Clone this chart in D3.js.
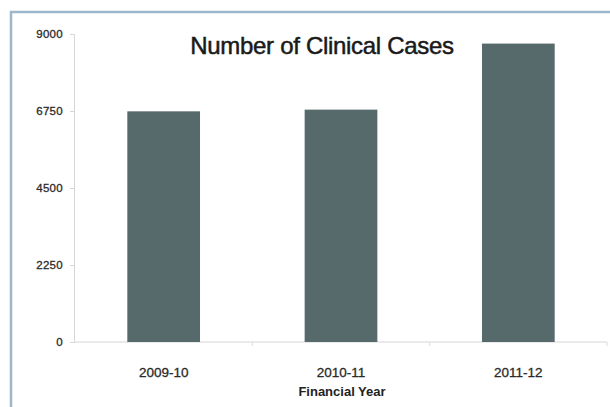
<!DOCTYPE html>
<html>
<head>
<meta charset="utf-8">
<script src="https://cdn.jsdelivr.net/npm/d3@7"></script>
<style>
  body { margin: 0; background: #fff; }
  text { font-family: "Liberation Sans", Arial, sans-serif; }
</style>
</head>
<body>
<script>
// chart data
var years = ["2009-10", "2010-11", "2011-12"];
var cases = [6740, 6790, 8720];
var yTicks = [0, 2250, 4500, 6750, 9000];

var width = 610, height = 407;

var svg = d3.select("body")
  .append("svg")
  .attr("width", width)
  .attr("height", height);

// frame round the chart
svg.append("rect")
  .attr("x", 11)
  .attr("y", 12)
  .attr("width", 620)
  .attr("height", 420)
  .attr("fill", "#fff")
  .attr("stroke", "#9db6c9")
  .attr("stroke-width", 2.5);

var x = d3.scaleBand()
  .domain(years)
  .range([75, 607])
  .paddingInner(0.59)
  .paddingOuter(0.295);

var y = d3.scaleLinear()
  .domain([0, 9000])
  .range([342, 34]);

// y axis
var yAxis = svg.append("g")
  .attr("transform", "translate(74,0)")
  .call(d3.axisLeft(y).tickValues(yTicks).tickSize(4).tickPadding(7).tickFormat(d3.format("d")));
yAxis.select(".domain").attr("stroke", "#d6d6d6");
yAxis.selectAll(".tick line").attr("stroke", "#d6d6d6");
yAxis.selectAll(".tick text")
  .attr("fill", "#2a2a2a")
  .attr("stroke", "#2a2a2a")
  .attr("stroke-width", 0.3)
  .style("font-size", "11.5px")
  .style("letter-spacing", "0.3px");

// baseline with band boundary ticks
svg.append("line")
  .attr("x1", 74).attr("x2", 607)
  .attr("y1", y(0)).attr("y2", y(0))
  .attr("stroke", "#d6d6d6");

svg.selectAll(".bandTick")
  .data(years)
  .enter()
  .append("line")
  .attr("class", "bandTick")
  .attr("x1", function(d) { return x(d) + x.bandwidth() + x.step() * x.paddingInner() / 2; })
  .attr("x2", function(d) { return x(d) + x.bandwidth() + x.step() * x.paddingInner() / 2; })
  .attr("y1", y(0))
  .attr("y2", y(0) + 4)
  .attr("stroke", "#dcdcdc");

// bars
svg.selectAll(".bar")
  .data(years)
  .enter()
  .append("rect")
  .attr("class", "bar")
  .attr("x", function(d) { return x(d); })
  .attr("width", x.bandwidth())
  .attr("y", function(d, i) { return y(cases[i]); })
  .attr("height", function(d, i) { return y(0) - y(cases[i]); })
  .attr("fill", "#566a6b");

// category labels
svg.selectAll(".catLabel")
  .data(years)
  .enter()
  .append("text")
  .attr("class", "catLabel")
  .attr("x", function(d) { return x(d) + x.bandwidth() / 2; })
  .attr("y", 377)
  .attr("text-anchor", "middle")
  .attr("fill", "#2a2a2a")
  .attr("stroke", "#2a2a2a")
  .attr("stroke-width", 0.3)
  .style("font-size", "13.5px")
  .text(function(d) { return d; });

// axis title
svg.append("text")
  .attr("x", 342)
  .attr("y", 396)
  .attr("text-anchor", "middle")
  .attr("fill", "#222")
  .style("font-size", "13px")
  .style("font-weight", "bold")
  .text("Financial Year");

// chart title
svg.append("text")
  .attr("x", 322)
  .attr("y", 54)
  .attr("text-anchor", "middle")
  .attr("fill", "#1a1a1a")
  .attr("stroke", "#1a1a1a")
  .attr("stroke-width", 0.5)
  .style("font-size", "24px")
  .style("letter-spacing", "-0.3px")
  .text("Number of Clinical Cases");
</script>
</body>
</html>
